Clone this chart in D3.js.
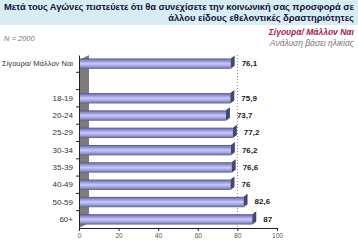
<!DOCTYPE html>
<html>
<head>
<meta charset="utf-8">
<script src="https://cdn.jsdelivr.net/npm/d3@7"></script>
<style>
  body { margin: 0; background: #fff; }
  text { font-family: Arial, "Liberation Sans", sans-serif; }
</style>
</head>
<body>
<script>
const categories = ["Σίγουρα/ Μάλλον Ναι", " ", "18-19", "20-24", "25-29", "30-34", "35-39", "40-49", "50-59", "60+"];
const values = [76.1, null, 75.9, 73.7, 77.2, 76.2, 76.6, 76, 82.6, 87];
const xTicks = [0, 20, 40, 60, 80, 100];
const titleLines = ["Μετά τους Αγώνες πιστεύετε ότι θα συνεχίσετε την κοινωνική σας προσφορά σε",
                    "άλλου είδους εθελοντικές δραστηριότητες"];

const W = 358, H = 252;
const margin = {top: 55, right: 81, bottom: 24, left: 79};
const width = W - margin.left - margin.right,
      height = H - margin.top - margin.bottom;
const depth = {dx: 10, dy: 5};

const svg = d3.select("body").append("svg")
    .attr("width", W)
    .attr("height", H);

// gradient for bars
const defs = svg.append("defs");
const grad = defs.append("linearGradient")
    .attr("id", "barGrad")
    .attr("x1", 0).attr("y1", 0).attr("x2", 0).attr("y2", 1);
[["0%", "#56568a"], ["20%", "#8a8ad0"], ["50%", "#cacaf6"], ["80%", "#9696d6"], ["100%", "#5c5c90"]]
    .forEach(([o, c]) => grad.append("stop").attr("offset", o).attr("stop-color", c));

// title band
svg.append("rect")
    .attr("x", 0).attr("y", 0).attr("width", W).attr("height", 25)
    .attr("fill", "#d8ecf3");
svg.selectAll(".title")
    .data(titleLines)
    .join("text")
    .attr("class", "title")
    .attr("x", W - 4)
    .attr("y", (d, i) => 10 + i * 11)
    .attr("text-anchor", "end")
    .attr("font-size", 9.4)
    .attr("font-weight", "bold")
    .attr("fill", "#14143c")
    .attr("textLength", (d, i) => i === 0 ? 350 : null)
    .text(d => d);

svg.append("text")
    .attr("x", 4).attr("y", 41)
    .attr("font-size", 7.5).attr("font-style", "italic").attr("fill", "#777")
    .text("N  = 2000");
svg.append("text")
    .attr("x", W - 4).attr("y", 35)
    .attr("text-anchor", "end")
    .attr("font-size", 8.5).attr("font-style", "italic").attr("font-weight", "bold")
    .attr("fill", "#a3214f")
    .text("Σίγουρα/ Μάλλον Ναι");
svg.append("text")
    .attr("x", W - 4).attr("y", 46)
    .attr("text-anchor", "end")
    .attr("font-size", 8.5).attr("font-style", "italic")
    .attr("fill", "#777")
    .text("Ανάλυση βάσει ηλικίας");

const g = svg.append("g")
    .attr("transform", `translate(${margin.left},${margin.top})`);

const x = d3.scaleLinear().domain([0, 100]).range([0, width]);
const y = d3.scaleBand().domain(categories).range([0, height]).paddingInner(0.4).paddingOuter(0.2);

// side wall
g.append("path")
    .attr("d", `M0,${depth.dy} L${depth.dx},0 L${depth.dx},${height - depth.dy} L0,${height} Z`)
    .attr("fill", "#7c7c7c");

// gridline at 80
g.append("line")
    .attr("x1", x(80)).attr("x2", x(80))
    .attr("y1", 0).attr("y2", height)
    .attr("stroke", "#888").attr("stroke-dasharray", "1,2");

// x axis
const xAxis = g.append("g")
    .attr("transform", `translate(0,${height})`)
    .call(d3.axisBottom(x).tickValues(xTicks).tickSize(3).tickSizeOuter(0));
xAxis.select(".domain").attr("stroke", "#222");
xAxis.selectAll(".tick line").attr("stroke", "#222");
xAxis.selectAll(".tick text").attr("font-size", 6.5).attr("fill", "#555").attr("dy", "0.55em");

// y axis
const yAxis = g.append("g")
    .call(d3.axisLeft(y).tickSize(0).tickPadding(6));
yAxis.select(".domain").attr("stroke", "#222");
yAxis.selectAll(".tick text")
    .attr("font-size", 8).attr("fill", "#333")
    .attr("textLength", (d, i) => i === 0 ? 71 : null)
    .attr("lengthAdjust", "spacingAndGlyphs");
g.selectAll(".ytick")
    .data(categories.slice(1))
    .join("line")
    .attr("class", "ytick")
    .attr("x1", -3).attr("x2", 0)
    .attr("y1", d => y(d) - y.step() * y.paddingInner() / 2)
    .attr("y2", d => y(d) - y.step() * y.paddingInner() / 2)
    .attr("stroke", "#222");

const data = categories.map((c, i) => ({cat: c, value: values[i]})).filter(d => d.value != null);

// bars
g.selectAll(".bar")
    .data(data)
    .join("rect")
    .attr("class", "bar")
    .attr("x", 1)
    .attr("y", d => y(d.cat))
    .attr("width", d => x(d.value))
    .attr("height", y.bandwidth())
    .attr("fill", "url(#barGrad)");

// end caps
g.selectAll(".cap")
    .data(data)
    .join("path")
    .attr("class", "cap")
    .attr("d", d => {
        const xe = x(d.value) + 1, y0 = y(d.cat), y1 = y0 + y.bandwidth();
        return `M${xe},${y0} L${xe + 4},${y0 - 3} L${xe + 4},${y1 - 3} L${xe},${y1} Z`;
    })
    .attr("fill", "#46466e");

// value labels
g.selectAll(".val")
    .data(data)
    .join("text")
    .attr("class", "val")
    .attr("x", d => x(d.value) + 12)
    .attr("y", d => y(d.cat) + y.bandwidth() / 2)
    .attr("dy", "0.3em")
    .attr("font-size", 8)
    .attr("font-weight", "bold")
    .attr("fill", "#1a1a1a")
    .text(d => String(d.value).replace(".", ","));
</script>
</body>
</html>
